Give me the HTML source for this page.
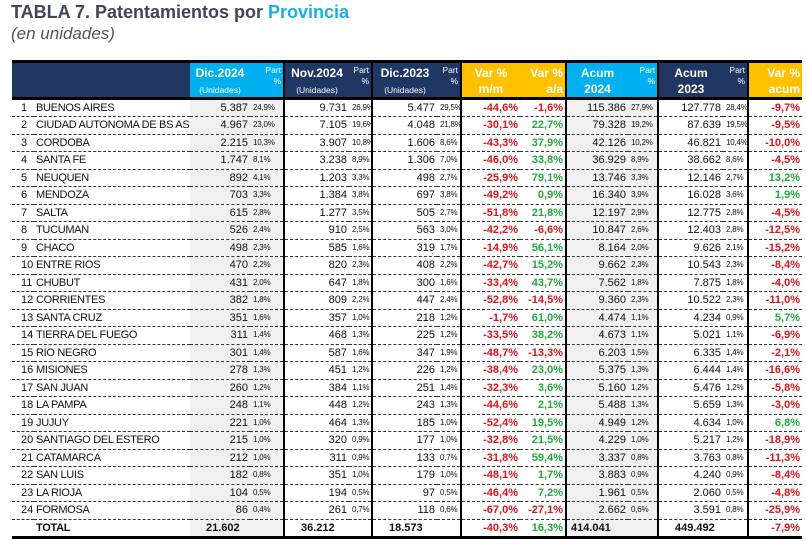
<!DOCTYPE html>
<html><head><meta charset="utf-8"><style>
body{margin:0;width:807px;height:541px;background:#fff;font-family:"Liberation Sans",sans-serif;overflow:hidden;position:relative}
.t1{position:absolute;left:11px;top:2px;font:bold 18px "Liberation Sans",sans-serif;color:#3f4756}
.t1 span{color:#1aaee6}
.t2{position:absolute;left:11px;top:24px;font:italic 17px "Liberation Sans",sans-serif;color:#555}
table{position:absolute;left:12px;top:60px;border-collapse:collapse;table-layout:fixed;width:790px;border-top:3px solid #000;border-bottom:3px solid #000}
td{padding:0 2px;height:17.5px;line-height:16px;font-size:11px;color:#111;white-space:nowrap;overflow:hidden;border-bottom:1px dashed #333;text-align:right;box-sizing:border-box}
td.p{font-size:8px;text-align:left;padding-left:3px;letter-spacing:-0.2px}
td.n{text-align:left;padding-left:9px}
td.nm{text-align:left;letter-spacing:-0.3px}
td.g{background:#f0f0f0}
.b{border-right:2px solid #000}
.r{color:#d9141b;font-weight:bold}.v{color:#22a83c;font-weight:bold}
thead td{height:35px;color:#fff;font-weight:bold;background:#203764;border-bottom:3px solid #000;vertical-align:top;padding-top:2px;font-size:12px;line-height:16px}
thead td small{font-size:8.5px;font-weight:normal;line-height:14px}
thead td.c{text-align:center}
thead td.ph{font-size:8.5px;line-height:11px;text-align:right;font-weight:normal}
thead .cy{background:#00b0f0}thead .or{background:#ffc000}
tr.tot td{font-weight:bold;border-bottom:none;height:17px}
tr.tot td.t{text-align:left;padding-left:16px}
</style></head><body>
<div class="t1">TABLA 7. Patentamientos por <span>Provincia</span></div>
<div class="t2">(en unidades)</div>
<table>
<colgroup><col style="width:22px"><col style="width:156px"><col style="width:60px"><col style="width:34px"><col style="width:65px"><col style="width:23px"><col style="width:65px"><col style="width:24px"><col style="width:59px"><col style="width:46px"><col style="width:62px"><col style="width:30px"><col style="width:65px"><col style="width:25px"><col style="width:54px"></colgroup>
<thead><tr><td></td><td></td><td class="cy c">Dic.2024<br><small>(Unidades)</small></td><td class="cy ph b">Part<br>%</td><td class="c">Nov.2024<br><small>(Unidades)</small></td><td class="ph b">Part<br>%</td><td class="c">Dic.2023<br><small>(Unidades)</small></td><td class="ph b">Part<br>%</td><td class="or c">Var %<br>m/m</td><td class="or b" style="text-align:right">Var %<br>a/a</td><td class="cy c">Acum<br>2024</td><td class="cy ph b">Part<br>%</td><td class="c">Acum<br>2023</td><td class="ph b">Part<br>%</td><td class="or" style="text-align:right">Var %<br>acum</td></tr></thead>
<tbody>
<tr><td class="n">1</td><td class="nm">BUENOS AIRES</td><td class="g">5.387</td><td class="g p b">24,9%</td><td>9.731</td><td class="p b">26,9%</td><td>5.477</td><td class="p b">29,5%</td><td class="r">-44,6%</td><td class="r b">-1,6%</td><td class="g">115.386</td><td class="g p b">27,9%</td><td>127.778</td><td class="p b">28,4%</td><td class="r">-9,7%</td></tr>
<tr><td class="n">2</td><td class="nm">CIUDAD AUTONOMA DE BS AS</td><td class="g">4.967</td><td class="g p b">23,0%</td><td>7.105</td><td class="p b">19,6%</td><td>4.048</td><td class="p b">21,8%</td><td class="r">-30,1%</td><td class="v b">22,7%</td><td class="g">79.328</td><td class="g p b">19,2%</td><td>87.639</td><td class="p b">19,5%</td><td class="r">-9,5%</td></tr>
<tr><td class="n">3</td><td class="nm">CORDOBA</td><td class="g">2.215</td><td class="g p b">10,3%</td><td>3.907</td><td class="p b">10,8%</td><td>1.606</td><td class="p b">8,6%</td><td class="r">-43,3%</td><td class="v b">37,9%</td><td class="g">42.126</td><td class="g p b">10,2%</td><td>46.821</td><td class="p b">10,4%</td><td class="r">-10,0%</td></tr>
<tr><td class="n">4</td><td class="nm">SANTA FE</td><td class="g">1.747</td><td class="g p b">8,1%</td><td>3.238</td><td class="p b">8,9%</td><td>1.306</td><td class="p b">7,0%</td><td class="r">-46,0%</td><td class="v b">33,8%</td><td class="g">36.929</td><td class="g p b">8,9%</td><td>38.662</td><td class="p b">8,6%</td><td class="r">-4,5%</td></tr>
<tr><td class="n">5</td><td class="nm">NEUQUEN</td><td class="g">892</td><td class="g p b">4,1%</td><td>1.203</td><td class="p b">3,3%</td><td>498</td><td class="p b">2,7%</td><td class="r">-25,9%</td><td class="v b">79,1%</td><td class="g">13.746</td><td class="g p b">3,3%</td><td>12.146</td><td class="p b">2,7%</td><td class="v">13,2%</td></tr>
<tr><td class="n">6</td><td class="nm">MENDOZA</td><td class="g">703</td><td class="g p b">3,3%</td><td>1.384</td><td class="p b">3,8%</td><td>697</td><td class="p b">3,8%</td><td class="r">-49,2%</td><td class="v b">0,9%</td><td class="g">16.340</td><td class="g p b">3,9%</td><td>16.028</td><td class="p b">3,6%</td><td class="v">1,9%</td></tr>
<tr><td class="n">7</td><td class="nm">SALTA</td><td class="g">615</td><td class="g p b">2,8%</td><td>1.277</td><td class="p b">3,5%</td><td>505</td><td class="p b">2,7%</td><td class="r">-51,8%</td><td class="v b">21,8%</td><td class="g">12.197</td><td class="g p b">2,9%</td><td>12.775</td><td class="p b">2,8%</td><td class="r">-4,5%</td></tr>
<tr><td class="n">8</td><td class="nm">TUCUMAN</td><td class="g">526</td><td class="g p b">2,4%</td><td>910</td><td class="p b">2,5%</td><td>563</td><td class="p b">3,0%</td><td class="r">-42,2%</td><td class="r b">-6,6%</td><td class="g">10.847</td><td class="g p b">2,6%</td><td>12.403</td><td class="p b">2,8%</td><td class="r">-12,5%</td></tr>
<tr><td class="n">9</td><td class="nm">CHACO</td><td class="g">498</td><td class="g p b">2,3%</td><td>585</td><td class="p b">1,6%</td><td>319</td><td class="p b">1,7%</td><td class="r">-14,9%</td><td class="v b">56,1%</td><td class="g">8.164</td><td class="g p b">2,0%</td><td>9.626</td><td class="p b">2,1%</td><td class="r">-15,2%</td></tr>
<tr><td class="n">10</td><td class="nm">ENTRE RIOS</td><td class="g">470</td><td class="g p b">2,2%</td><td>820</td><td class="p b">2,3%</td><td>408</td><td class="p b">2,2%</td><td class="r">-42,7%</td><td class="v b">15,2%</td><td class="g">9.662</td><td class="g p b">2,3%</td><td>10.543</td><td class="p b">2,3%</td><td class="r">-8,4%</td></tr>
<tr><td class="n">11</td><td class="nm">CHUBUT</td><td class="g">431</td><td class="g p b">2,0%</td><td>647</td><td class="p b">1,8%</td><td>300</td><td class="p b">1,6%</td><td class="r">-33,4%</td><td class="v b">43,7%</td><td class="g">7.562</td><td class="g p b">1,8%</td><td>7.875</td><td class="p b">1,8%</td><td class="r">-4,0%</td></tr>
<tr><td class="n">12</td><td class="nm">CORRIENTES</td><td class="g">382</td><td class="g p b">1,8%</td><td>809</td><td class="p b">2,2%</td><td>447</td><td class="p b">2,4%</td><td class="r">-52,8%</td><td class="r b">-14,5%</td><td class="g">9.360</td><td class="g p b">2,3%</td><td>10.522</td><td class="p b">2,3%</td><td class="r">-11,0%</td></tr>
<tr><td class="n">13</td><td class="nm">SANTA CRUZ</td><td class="g">351</td><td class="g p b">1,6%</td><td>357</td><td class="p b">1,0%</td><td>218</td><td class="p b">1,2%</td><td class="r">-1,7%</td><td class="v b">61,0%</td><td class="g">4.474</td><td class="g p b">1,1%</td><td>4.234</td><td class="p b">0,9%</td><td class="v">5,7%</td></tr>
<tr><td class="n">14</td><td class="nm">TIERRA DEL FUEGO</td><td class="g">311</td><td class="g p b">1,4%</td><td>468</td><td class="p b">1,3%</td><td>225</td><td class="p b">1,2%</td><td class="r">-33,5%</td><td class="v b">38,2%</td><td class="g">4.673</td><td class="g p b">1,1%</td><td>5.021</td><td class="p b">1,1%</td><td class="r">-6,9%</td></tr>
<tr><td class="n">15</td><td class="nm">RIO NEGRO</td><td class="g">301</td><td class="g p b">1,4%</td><td>587</td><td class="p b">1,6%</td><td>347</td><td class="p b">1,9%</td><td class="r">-48,7%</td><td class="r b">-13,3%</td><td class="g">6.203</td><td class="g p b">1,5%</td><td>6.335</td><td class="p b">1,4%</td><td class="r">-2,1%</td></tr>
<tr><td class="n">16</td><td class="nm">MISIONES</td><td class="g">278</td><td class="g p b">1,3%</td><td>451</td><td class="p b">1,2%</td><td>226</td><td class="p b">1,2%</td><td class="r">-38,4%</td><td class="v b">23,0%</td><td class="g">5.375</td><td class="g p b">1,3%</td><td>6.444</td><td class="p b">1,4%</td><td class="r">-16,6%</td></tr>
<tr><td class="n">17</td><td class="nm">SAN JUAN</td><td class="g">260</td><td class="g p b">1,2%</td><td>384</td><td class="p b">1,1%</td><td>251</td><td class="p b">1,4%</td><td class="r">-32,3%</td><td class="v b">3,6%</td><td class="g">5.160</td><td class="g p b">1,2%</td><td>5.476</td><td class="p b">1,2%</td><td class="r">-5,8%</td></tr>
<tr><td class="n">18</td><td class="nm">LA PAMPA</td><td class="g">248</td><td class="g p b">1,1%</td><td>448</td><td class="p b">1,2%</td><td>243</td><td class="p b">1,3%</td><td class="r">-44,6%</td><td class="v b">2,1%</td><td class="g">5.488</td><td class="g p b">1,3%</td><td>5.659</td><td class="p b">1,3%</td><td class="r">-3,0%</td></tr>
<tr><td class="n">19</td><td class="nm">JUJUY</td><td class="g">221</td><td class="g p b">1,0%</td><td>464</td><td class="p b">1,3%</td><td>185</td><td class="p b">1,0%</td><td class="r">-52,4%</td><td class="v b">19,5%</td><td class="g">4.949</td><td class="g p b">1,2%</td><td>4.634</td><td class="p b">1,0%</td><td class="v">6,8%</td></tr>
<tr><td class="n">20</td><td class="nm">SANTIAGO DEL ESTERO</td><td class="g">215</td><td class="g p b">1,0%</td><td>320</td><td class="p b">0,9%</td><td>177</td><td class="p b">1,0%</td><td class="r">-32,8%</td><td class="v b">21,5%</td><td class="g">4.229</td><td class="g p b">1,0%</td><td>5.217</td><td class="p b">1,2%</td><td class="r">-18,9%</td></tr>
<tr><td class="n">21</td><td class="nm">CATAMARCA</td><td class="g">212</td><td class="g p b">1,0%</td><td>311</td><td class="p b">0,9%</td><td>133</td><td class="p b">0,7%</td><td class="r">-31,8%</td><td class="v b">59,4%</td><td class="g">3.337</td><td class="g p b">0,8%</td><td>3.763</td><td class="p b">0,8%</td><td class="r">-11,3%</td></tr>
<tr><td class="n">22</td><td class="nm">SAN LUIS</td><td class="g">182</td><td class="g p b">0,8%</td><td>351</td><td class="p b">1,0%</td><td>179</td><td class="p b">1,0%</td><td class="r">-48,1%</td><td class="v b">1,7%</td><td class="g">3.883</td><td class="g p b">0,9%</td><td>4.240</td><td class="p b">0,9%</td><td class="r">-8,4%</td></tr>
<tr><td class="n">23</td><td class="nm">LA RIOJA</td><td class="g">104</td><td class="g p b">0,5%</td><td>194</td><td class="p b">0,5%</td><td>97</td><td class="p b">0,5%</td><td class="r">-46,4%</td><td class="v b">7,2%</td><td class="g">1.961</td><td class="g p b">0,5%</td><td>2.060</td><td class="p b">0,5%</td><td class="r">-4,8%</td></tr>
<tr><td class="n">24</td><td class="nm">FORMOSA</td><td class="g">86</td><td class="g p b">0,4%</td><td>261</td><td class="p b">0,7%</td><td>118</td><td class="p b">0,6%</td><td class="r">-67,0%</td><td class="r b">-27,1%</td><td class="g">2.662</td><td class="g p b">0,6%</td><td>3.591</td><td class="p b">0,8%</td><td class="r">-25,9%</td></tr>
<tr class="tot"><td></td><td class="nm">TOTAL</td><td class="g t">21.602</td><td class="g b"></td><td class="t">36.212</td><td class="b"></td><td class="t">18.573</td><td class="b"></td><td class="r">-40,3%</td><td class="v b">16,3%</td><td class="g t" style="padding-left:4px">414.041</td><td class="g b"></td><td class="t">449.492</td><td class="b"></td><td class="r">-7,9%</td></tr>
</tbody></table>
</body></html>
